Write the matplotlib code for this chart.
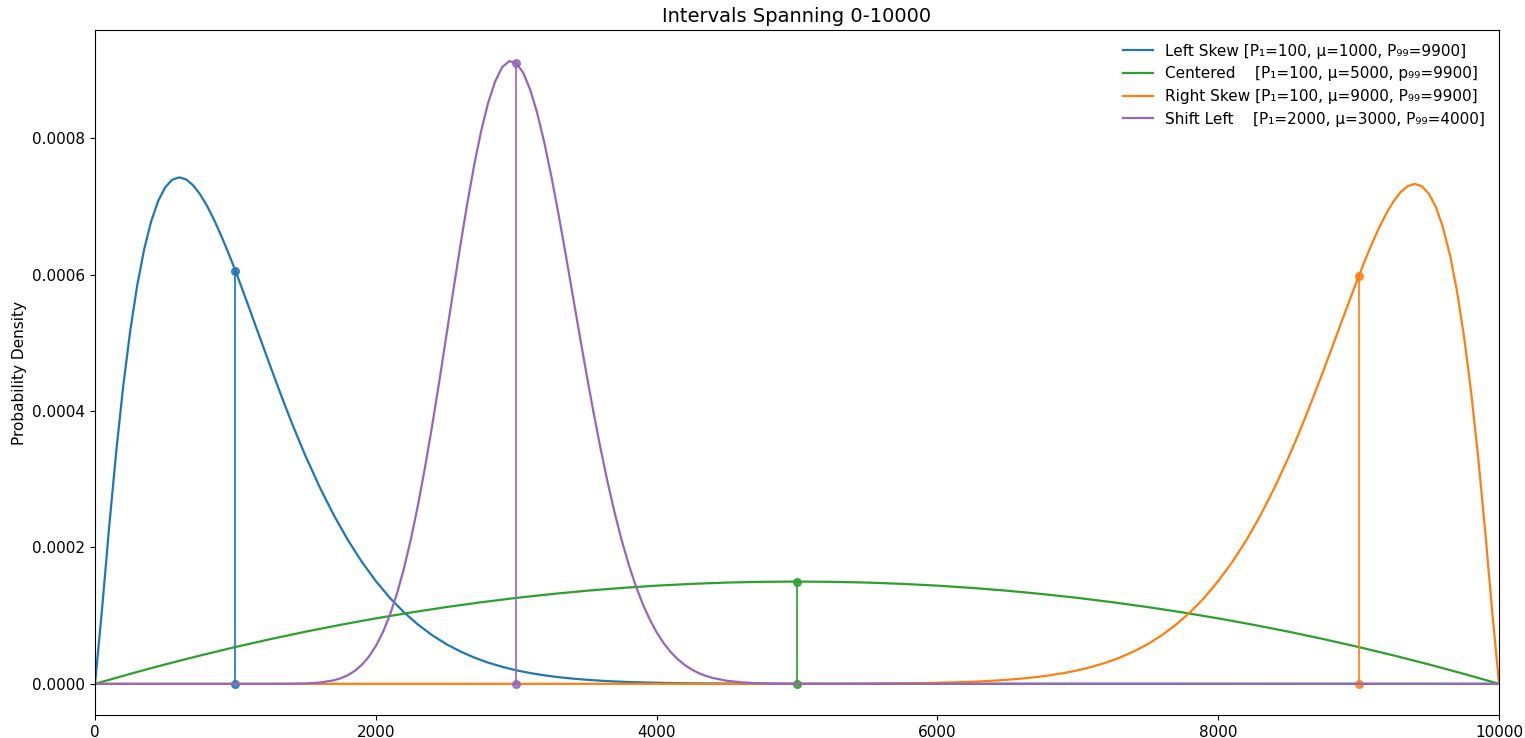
import numpy as np
import matplotlib
matplotlib.use("Agg")
import matplotlib.pyplot as plt

# ---------------- data (densities stored in units of 1e-4) ----------------
SCALE = 1e-4

labels = [
    "Left Skew [P\u2081=100, \u03bc=1000, P\u2089\u2089=9900]",
    "Centered    [P\u2081=100, \u03bc=5000, p\u2089\u2089=9900]",
    "Right Skew [P\u2081=100, \u03bc=9000, P\u2089\u2089=9900]",
    "Shift Left    [P\u2081=2000, \u03bc=3000, P\u2089\u2089=4000]",
]
colors = ["#1f77b4", "#2ca02c", "#ff7f0e", "#9467bd"]
means = [1000, 5000, 9000, 3000]

left_x = np.r_[np.arange(0, 1500, 50), np.arange(1500, 5001, 100), 10000]
left_y = [0, 1.090, 2.283, 3.383, 4.350, 5.165, 5.836, 6.372, 6.783, 7.082,
          7.281, 7.393, 7.427, 7.396, 7.308, 7.174, 7.001, 6.796, 6.566, 6.317,
          6.06, 5.780, 5.501, 5.215, 4.933, 4.650, 4.372, 4.100, 3.836, 3.583,
          3.338, 2.885, 2.477, 2.112, 1.790, 1.507, 1.261, 1.050, 0.869, 0.715,
          0.585, 0.477, 0.386, 0.311, 0.250, 0.199, 0.158, 0.125, 0.098, 0.077,
          0.060, 0.046, 0.035, 0.027, 0.021, 0.016, 0.012, 0.009, 0.0065, 0.0048,
          0.0035, 0.0025, 0.0018, 0.0013, 0.0009, 0.0006,
          0]

center_x = np.arange(0, 10001, 250)
center_y = [0, 0.146, 0.285, 0.416, 0.540, 0.656, 0.765, 0.866, 0.960, 1.046,
            1.125, 1.196, 1.260, 1.316, 1.365, 1.406, 1.440, 1.466, 1.485, 1.496,
            1.500,
            1.496, 1.485, 1.466, 1.440, 1.406, 1.365, 1.316, 1.260, 1.196, 1.125,
            1.046, 0.960, 0.866, 0.765, 0.656, 0.540, 0.416, 0.285, 0.146, 0]

right_x = np.r_[0, np.arange(5000, 8501, 100), np.arange(8550, 10001, 50)]
right_y = [0,
           0.0006, 0.0009, 0.0013, 0.0018, 0.0025, 0.0035, 0.0048, 0.0065, 0.009, 0.012,
           0.016, 0.021, 0.027, 0.035, 0.046, 0.060, 0.077, 0.098, 0.125, 0.158,
           0.199, 0.250, 0.311, 0.386, 0.477, 0.585, 0.715, 0.869, 1.050, 1.261,
           1.507, 1.788, 2.107, 2.469, 2.873, 3.319,
           3.558, 3.806, 4.064, 4.328, 4.599, 4.874, 5.152, 5.430, 5.705, 5.975,
           6.235, 6.481, 6.708, 6.910, 7.081, 7.214, 7.300, 7.331, 7.297, 7.187,
           6.991, 6.695, 6.289, 5.761, 5.098, 4.294, 3.346, 2.263, 1.082, 0]

shift_x = np.r_[0, np.arange(1300, 1700, 100), np.arange(1700, 4400, 50),
                np.arange(4400, 5001, 100), 10000]
shift_y = [0,
           0.0004, 0.0016, 0.0058, 0.0185,
           0.0513, 0.0816, 0.1261, 0.1896, 0.2778, 0.3971, 0.5543, 0.7562, 1.0095, 1.3194,
           1.690, 2.124,
           2.618, 3.170, 3.770, 4.409, 5.074, 5.744, 6.402, 7.026, 7.602, 8.106,
           8.520, 8.835, 9.043, 9.131, 9.103, 8.960, 8.710, 8.365, 7.938, 7.443,
           6.900, 6.323, 5.728, 5.132, 4.548, 3.986,
           3.457, 2.965, 2.517, 2.114, 1.757, 1.445, 1.176, 0.948, 0.756, 0.597,
           0.4665, 0.361, 0.2763, 0.2096, 0.1573, 0.1169,
           0.0860, 0.0451, 0.0228, 0.0110, 0.0051, 0.0023, 0.0010,
           0]

curves = [(left_x, left_y), (center_x, center_y), (right_x, right_y), (shift_x, shift_y)]

# ---------------- plot ----------------
fig = plt.figure(figsize=(15.25, 7.38), dpi=100)
ax = fig.add_axes([0.0623, 0.0312, 0.9207, 0.9281])

for (xs, ys), lab, c, mu in zip(curves, labels, colors, means):
    ys = np.asarray(ys, dtype=float) * SCALE
    ax.plot(xs, ys, color=c, lw=1.6, label=lab)
    top = np.interp(mu, xs, ys)
    ax.plot([mu, mu], [0, top], color=c, lw=1.5, alpha=0.85,
            marker="o", markersize=5.5)

ax.set_xlim(0, 10000)
ax.set_xticks(np.arange(0, 10001, 2000))
ax.set_yticks([0, 0.0002, 0.0004, 0.0006, 0.0008])
ax.set_title("Intervals Spanning 0-10000", fontsize=14)
ax.set_ylabel("Probability Density", fontsize=11)
ax.tick_params(labelsize=11)
ax.legend(loc="upper right", frameon=False, fontsize=11)

fig.savefig("out.png", dpi=100)
